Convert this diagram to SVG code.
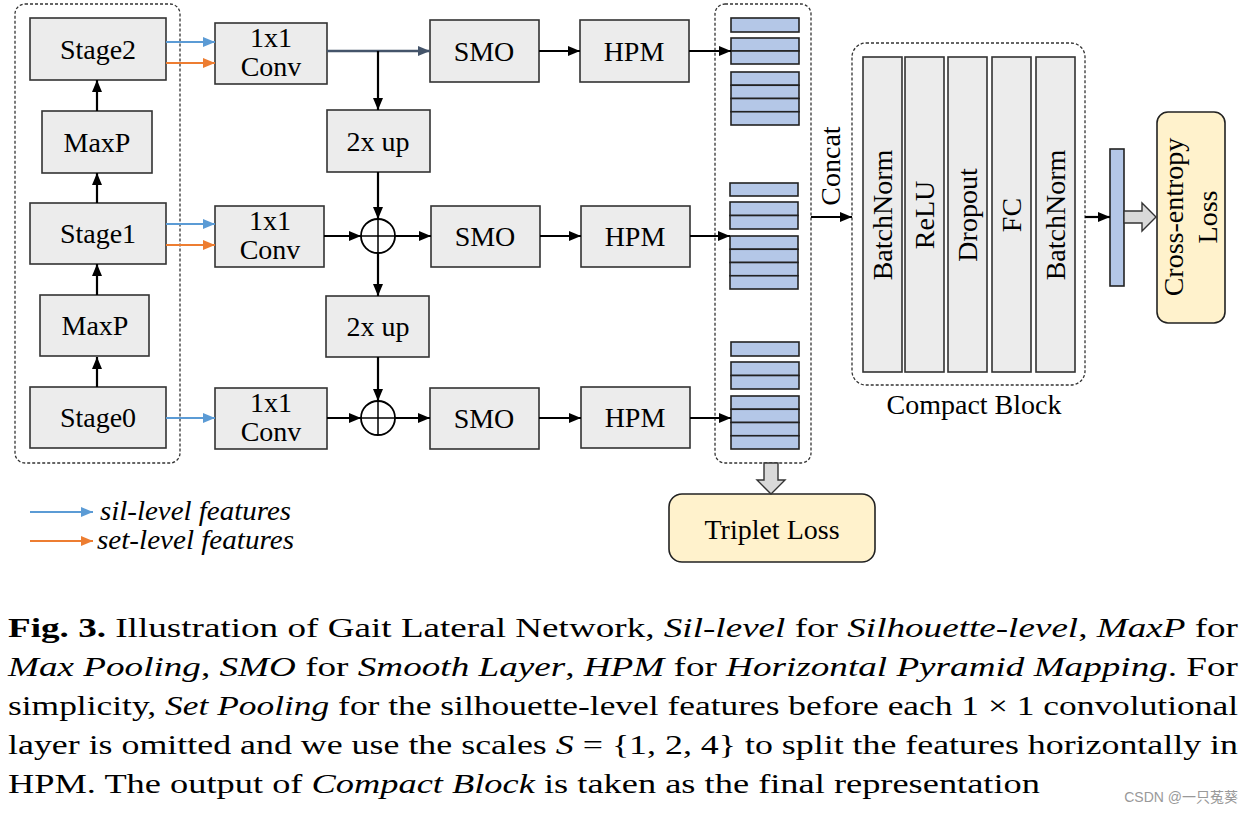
<svg xmlns="http://www.w3.org/2000/svg" width="1251" height="815" viewBox="0 0 1251 815">
<style>
.node{fill:#ececec;stroke:#333;stroke-width:1.6}
.lbl{font-family:"Liberation Serif","Times New Roman",serif;font-size:28px;fill:#000;text-anchor:middle}
.dash{fill:none;stroke:#333;stroke-width:1.3;stroke-dasharray:3,2}
.bar{fill:#b4c7e7;stroke:#222;stroke-width:1.6}
.ln{fill:none;stroke:#000;stroke-width:2.2}
.blue{fill:none;stroke:#5b9bd5;stroke-width:2.2}
.orange{fill:none;stroke:#ed7d31;stroke-width:2.2}
.slate{fill:none;stroke:#44546a;stroke-width:2.4}
.loss{fill:#fff2cc;stroke:#222;stroke-width:1.6}
.garrow{fill:#d9d9d9;stroke:#333;stroke-width:1.4}
.cap{font-family:"Liberation Serif","Times New Roman",serif;font-size:27px;fill:#000}
</style>
<defs>
<marker id="ab" viewBox="0 0 12 10" refX="12" refY="5" markerWidth="12" markerHeight="10" markerUnits="userSpaceOnUse" orient="auto"><path d="M0,0 L12,5 L0,10 z" fill="#000"/></marker>
<marker id="abl" viewBox="0 0 12 10" refX="12" refY="5" markerWidth="12" markerHeight="10" markerUnits="userSpaceOnUse" orient="auto"><path d="M0,0 L12,5 L0,10 z" fill="#5b9bd5"/></marker>
<marker id="aor" viewBox="0 0 12 10" refX="12" refY="5" markerWidth="12" markerHeight="10" markerUnits="userSpaceOnUse" orient="auto"><path d="M0,0 L12,5 L0,10 z" fill="#ed7d31"/></marker>
<marker id="asl" viewBox="0 0 12 10" refX="12" refY="5" markerWidth="12" markerHeight="10" markerUnits="userSpaceOnUse" orient="auto"><path d="M0,0 L12,5 L0,10 z" fill="#44546a"/></marker>
</defs>
<rect width="1251" height="815" fill="#fff"/>

<!-- containers -->
<g id="backbone">
<rect class="dash" x="15" y="4" width="165" height="459" rx="10"/>
</g>
<g id="stage2"><rect class="node" x="30" y="18" width="136" height="62"/><text class="lbl" x="98" y="59">Stage2</text></g>
<g id="maxp1"><rect class="node" x="42" y="111" width="110" height="62"/><text class="lbl" x="97" y="152">MaxP</text></g>
<g id="stage1"><rect class="node" x="30" y="203" width="136" height="61"/><text class="lbl" x="98" y="243">Stage1</text></g>
<g id="maxp0"><rect class="node" x="40" y="295" width="109" height="61"/><text class="lbl" x="95" y="335">MaxP</text></g>
<g id="stage0"><rect class="node" x="30" y="387" width="136" height="61"/><text class="lbl" x="98" y="427">Stage0</text></g>

<g id="conv2"><rect class="node" x="215" y="23" width="112" height="61"/><text class="lbl" x="271" y="47">1x1</text><text class="lbl" x="271" y="76">Conv</text></g>
<g id="conv1"><rect class="node" x="215" y="206" width="109" height="61"/><text class="lbl" x="270" y="230">1x1</text><text class="lbl" x="270" y="259">Conv</text></g>
<g id="conv0"><rect class="node" x="215" y="388" width="112" height="61"/><text class="lbl" x="271" y="412">1x1</text><text class="lbl" x="271" y="441">Conv</text></g>

<g id="up1"><rect class="node" x="327" y="110" width="103" height="62"/><text class="lbl" x="378" y="151">2x up</text></g>
<g id="up0"><rect class="node" x="326" y="296" width="103" height="61"/><text class="lbl" x="378" y="336">2x up</text></g>

<g id="add1"><circle cx="378" cy="236" r="17" fill="#fff" stroke="#000" stroke-width="1.8"/><path d="M361,236 H395 M378,219 V253" stroke="#000" stroke-width="1.5"/></g>
<g id="add0"><circle cx="378" cy="418" r="17" fill="#fff" stroke="#000" stroke-width="1.8"/><path d="M361,418 H395 M378,401 V435" stroke="#000" stroke-width="1.5"/></g>

<g id="smo2"><rect class="node" x="430" y="20" width="109" height="62"/><text class="lbl" x="484" y="61">SMO</text></g>
<g id="smo1"><rect class="node" x="431" y="206" width="109" height="61"/><text class="lbl" x="485" y="246">SMO</text></g>
<g id="smo0"><rect class="node" x="430" y="388" width="109" height="61"/><text class="lbl" x="484" y="428">SMO</text></g>
<g id="hpm2"><rect class="node" x="580" y="20" width="109" height="62"/><text class="lbl" x="634" y="61">HPM</text></g>
<g id="hpm1"><rect class="node" x="581" y="206" width="109" height="61"/><text class="lbl" x="635" y="246">HPM</text></g>
<g id="hpm0"><rect class="node" x="581" y="387" width="109" height="61"/><text class="lbl" x="635" y="427">HPM</text></g>

<g id="features">
<rect class="dash" x="715" y="4" width="96" height="459" rx="10"/>
<rect class="bar" x="731" y="18" width="68" height="14"/>
<rect class="bar" x="731" y="38" width="68" height="13"/><rect class="bar" x="731" y="51" width="68" height="13"/>
<rect class="bar" x="731" y="72" width="68" height="13.25"/><rect class="bar" x="731" y="85.25" width="68" height="13.25"/><rect class="bar" x="731" y="98.5" width="68" height="13.25"/><rect class="bar" x="731" y="111.75" width="68" height="13.25"/>
<rect class="bar" x="730" y="183" width="68" height="13"/>
<rect class="bar" x="730" y="202" width="68" height="13.5"/><rect class="bar" x="730" y="215.5" width="68" height="13.5"/>
<rect class="bar" x="730" y="236" width="68" height="13.25"/><rect class="bar" x="730" y="249.25" width="68" height="13.25"/><rect class="bar" x="730" y="262.5" width="68" height="13.25"/><rect class="bar" x="730" y="275.75" width="68" height="13.25"/>
<rect class="bar" x="731" y="342" width="68" height="14"/>
<rect class="bar" x="731" y="362" width="68" height="13.5"/><rect class="bar" x="731" y="375.5" width="68" height="13.5"/>
<rect class="bar" x="731" y="396" width="68" height="13.25"/><rect class="bar" x="731" y="409.25" width="68" height="13.25"/><rect class="bar" x="731" y="422.5" width="68" height="13.25"/><rect class="bar" x="731" y="435.75" width="68" height="13.25"/>
</g>

<g id="concat-label"><text class="lbl" transform="translate(840,166) rotate(-90)">Concat</text></g>

<g id="compact-block">
<rect class="dash" x="852" y="43" width="233" height="342" rx="14"/>
<rect class="node" x="863" y="57" width="39" height="315"/>
<rect class="node" x="905" y="57" width="39" height="315"/>
<rect class="node" x="948" y="57" width="39" height="315"/>
<rect class="node" x="992" y="57" width="39" height="315"/>
<rect class="node" x="1036" y="57" width="39" height="315"/>
<text class="lbl" transform="translate(892,215) rotate(-90)">BatchNorm</text>
<text class="lbl" transform="translate(934,215) rotate(-90)">ReLU</text>
<text class="lbl" transform="translate(977,215) rotate(-90)">Dropout</text>
<text class="lbl" transform="translate(1021,215) rotate(-90)">FC</text>
<text class="lbl" transform="translate(1065,215) rotate(-90)">BatchNorm</text>
<text class="lbl" x="974" y="414">Compact Block</text>
</g>

<g id="embedding"><rect class="bar" x="1110" y="149" width="14" height="137"/></g>

<g id="ce-loss">
<rect class="loss" x="1157" y="112" width="68" height="211" rx="11"/>
<text class="lbl" transform="translate(1183,217) rotate(-90)">Cross-entropy</text>
<text class="lbl" transform="translate(1217,217) rotate(-90)">Loss</text>
</g>

<g id="triplet-loss">
<rect class="loss" x="669" y="494" width="206" height="68" rx="13"/>
<text class="lbl" x="772" y="539">Triplet Loss</text>
</g>

<g id="connectors">
<path class="ln" d="M97,387 V357" marker-end="url(#ab)"/>
<path class="ln" d="M97,295 V264" marker-end="url(#ab)"/>
<path class="ln" d="M97,203 V173" marker-end="url(#ab)"/>
<path class="ln" d="M97,111 V80" marker-end="url(#ab)"/>
<path class="blue" d="M166,42 H215" marker-end="url(#abl)"/>
<path class="orange" d="M166,63 H215" marker-end="url(#aor)"/>
<path class="blue" d="M166,224 H215" marker-end="url(#abl)"/>
<path class="orange" d="M166,245 H215" marker-end="url(#aor)"/>
<path class="blue" d="M166,418 H215" marker-end="url(#abl)"/>
<path class="slate" d="M327,51 H430" marker-end="url(#asl)"/>
<path class="ln" d="M378,51 V110" marker-end="url(#ab)"/>
<path class="ln" d="M378,172 V219" marker-end="url(#ab)"/>
<path class="ln" d="M324,236 H361" marker-end="url(#ab)"/>
<path class="ln" d="M395,236 H431" marker-end="url(#ab)"/>
<path class="ln" d="M378,253 V296" marker-end="url(#ab)"/>
<path class="ln" d="M378,357 V401" marker-end="url(#ab)"/>
<path class="ln" d="M327,418 H361" marker-end="url(#ab)"/>
<path class="ln" d="M395,418 H430" marker-end="url(#ab)"/>
<path class="ln" d="M539,51 H580" marker-end="url(#ab)"/>
<path class="ln" d="M540,236 H581" marker-end="url(#ab)"/>
<path class="ln" d="M539,418 H581" marker-end="url(#ab)"/>
<path class="ln" d="M689,51 H731" marker-end="url(#ab)"/>
<path class="ln" d="M690,236 H730" marker-end="url(#ab)"/>
<path class="ln" d="M690,418 H731" marker-end="url(#ab)"/>
<path class="ln" d="M811,217 H852" marker-end="url(#ab)"/>
<path class="ln" d="M1085,217 H1110" marker-end="url(#ab)"/>
<path class="garrow" d="M1124,211 H1142 V203 L1156,217 L1142,231 V223 H1124 z"/>
<path class="garrow" d="M764,463 V480 H757 L771,494 L785,480 H778 V463 z"/>
</g>

<g id="legend">
<path class="blue" d="M30,512 H93" marker-end="url(#abl)"/>
<path class="orange" d="M30,541 H93" marker-end="url(#aor)"/>
<text class="lbl" x="100" y="520" style="text-anchor:start;font-style:italic" textLength="191" lengthAdjust="spacingAndGlyphs">sil-level features</text>
<text class="lbl" x="97" y="549" style="text-anchor:start;font-style:italic" textLength="197" lengthAdjust="spacingAndGlyphs">set-level features</text>
</g>

<g id="caption">
<text class="cap" x="8" y="637" textLength="1230" lengthAdjust="spacingAndGlyphs"><tspan font-weight="bold">Fig. 3.</tspan> Illustration of Gait Lateral Network, <tspan font-style="italic">Sil-level</tspan> for <tspan font-style="italic">Silhouette-level</tspan>, <tspan font-style="italic">MaxP</tspan> for</text>
<text class="cap" x="8" y="676" textLength="1230" lengthAdjust="spacingAndGlyphs"><tspan font-style="italic">Max Pooling</tspan>, <tspan font-style="italic">SMO</tspan> for <tspan font-style="italic">Smooth Layer</tspan>, <tspan font-style="italic">HPM</tspan> for <tspan font-style="italic">Horizontal Pyramid Mapping</tspan>. For</text>
<text class="cap" x="8" y="715" textLength="1230" lengthAdjust="spacingAndGlyphs">simplicity, <tspan font-style="italic">Set Pooling</tspan> for the silhouette-level features before each 1 × 1 convolutional</text>
<text class="cap" x="8" y="754" textLength="1230" lengthAdjust="spacingAndGlyphs">layer is omitted and we use the scales <tspan font-style="italic">S</tspan> = {1, 2, 4} to split the features horizontally in</text>
<text class="cap" x="8" y="793" textLength="1032" lengthAdjust="spacingAndGlyphs">HPM. The output of <tspan font-style="italic">Compact Block</tspan> is taken as the final representation</text>
<text x="1238" y="802" style="font-family:'Liberation Sans','Noto Sans CJK SC',sans-serif;font-size:14px;fill:#999;text-anchor:end">CSDN @一只菟葵</text>
</g>
</svg>
